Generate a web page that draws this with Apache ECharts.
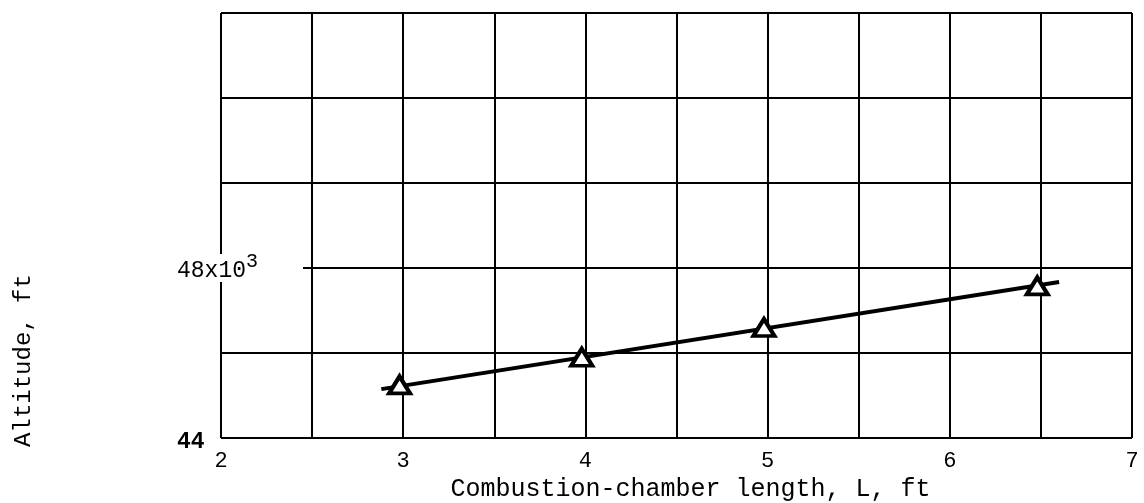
<!DOCTYPE html>
<html>
<head>
<meta charset="utf-8">
<script src="https://cdn.jsdelivr.net/npm/echarts@6/dist/echarts.min.js"></script>
<style>html,body{margin:0;padding:0;background:#fff}#c{width:1144px;height:503px}</style>
</head>
<body>
<div id="c"></div>
<script>
const xTickLabels = [2, 3, 4, 5, 6, 7];
const yTickLabels = { 44: '{b|44}', 48: '{m|48x10}{sup|3}{pad| }' };
const chamberLength = [2.98, 3.98, 4.98, 6.48];
const altitude = [45.25, 45.9, 46.6, 47.58];
const fitLength = [2.88, 6.6];
const fitAltitude = [45.15, 47.67];

const font = 'Liberation Mono';
const chart = echarts.init(document.getElementById('c'));
chart.setOption({
  animation: false,
  backgroundColor: '#fff',
  grid: { left: 221, right: 12, top: 13, bottom: 65, containLabel: false, outerBoundsMode: 'none' },
  xAxis: {
    type: 'value', min: 2, max: 7, interval: 0.5, z: 0,
    name: 'Combustion-chamber length, L, ft',
    nameLocation: 'middle', nameGap: 37,
    nameTextStyle: { fontFamily: font, fontSize: 25, color: '#000', padding: [0, 0, 0, 28] },
    axisLine: { show: false }, axisTick: { show: false },
    splitLine: { show: true, lineStyle: { color: '#000', width: 2 } },
    axisLabel: {
      margin: 12, fontFamily: font, fontSize: 22, color: '#000',
      formatter: v => xTickLabels.includes(v) ? String(v) : ''
    }
  },
  yAxis: [{
    type: 'value', min: 44, max: 54, interval: 2, z: 0,
    name: 'Altitude, ft', nameLocation: 'middle', nameGap: 185, nameRotate: 90,
    nameTextStyle: { fontFamily: font, fontSize: 24, color: '#000', padding: [0, 270, 0, 0] },
    axisLine: { show: false }, axisTick: { show: false }, axisLabel: { show: false },
    splitLine: { show: true, lineStyle: { color: '#000', width: 2 } }
  }, {
    type: 'value', min: 44, max: 54, interval: 2, z: 5, position: 'left',
    axisLine: { show: false }, axisTick: { show: false }, splitLine: { show: false },
    axisLabel: {
      align: 'left', margin: 44, color: '#000',
      formatter: v => yTickLabels[v] || '',
      rich: {
        b: { fontFamily: font, fontSize: 23, fontWeight: 'bold', color: '#000', padding: [8, 0, 0, 0] },
        m: { fontFamily: font, fontSize: 23, color: '#000', lineHeight: 42, verticalAlign: 'middle', backgroundColor: '#fff', padding: [5, 0, 0, 0] },
        sup: { fontFamily: font, fontSize: 20, color: '#000', lineHeight: 22, verticalAlign: 'top', backgroundColor: '#fff', padding: [5, 0, 0, 0] },
        pad: { width: 45, lineHeight: 42, verticalAlign: 'middle', backgroundColor: '#fff', fontSize: 10 }
      }
    }
  }],
  series: [{
    type: 'line', yAxisIndex: 0, z: 3,
    data: fitLength.map((x, i) => [x, fitAltitude[i]]),
    showSymbol: false, lineStyle: { color: '#000', width: 4 }
  }, {
    type: 'scatter', yAxisIndex: 0, z: 4,
    data: chamberLength.map((x, i) => [x, altitude[i]]),
    symbol: 'triangle', symbolSize: [21, 17],
    itemStyle: { color: '#fff', borderColor: '#000', borderWidth: 4, opacity: 1 }
  }]
});
</script>
</body>
</html>
